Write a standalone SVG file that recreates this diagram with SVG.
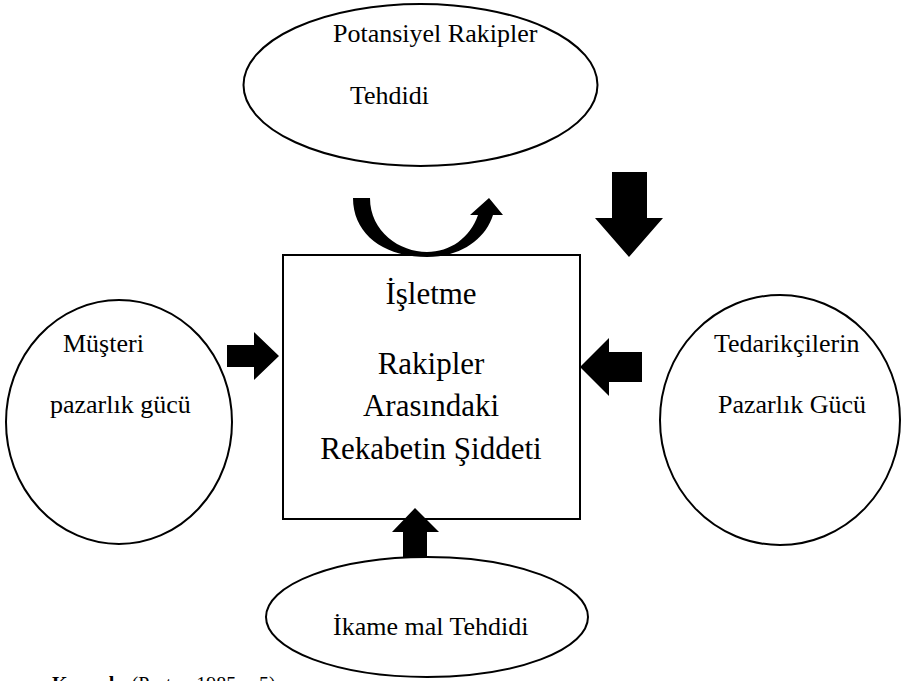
<svg xmlns="http://www.w3.org/2000/svg" width="901" height="681" viewBox="0 0 901 681">
<style>
.shape{fill:#fff;stroke:#000;stroke-width:2}
.t{font-family:"Liberation Serif","Times New Roman",serif;font-size:26px;fill:#000}
.c{font-family:"Liberation Serif","Times New Roman",serif;font-size:31px;fill:#000;text-anchor:middle}
.arrow{fill:#000;stroke:none}
</style>
<rect width="901" height="681" fill="#fff"/>
<g id="potansiyel">
<ellipse class="shape" cx="420.5" cy="85" rx="177" ry="81"/>
<text class="t" x="333" y="42">Potansiyel Rakipler</text>
<text class="t" x="350" y="104">Tehdidi</text>
</g>
<g id="isletme">
<rect class="shape" x="283" y="255" width="297" height="264"/>
<text class="c" x="431" y="304">İşletme</text>
<text class="c" x="431" y="374">Rakipler</text>
<text class="c" x="431" y="416">Arasındaki</text>
<text class="c" x="431" y="459">Rekabetin Şiddeti</text>
</g>
<g id="musteri">
<ellipse class="shape" cx="119" cy="422" rx="113" ry="122"/>
<text class="t" x="63" y="352">Müşteri</text>
<text class="t" x="50" y="413">pazarlık gücü</text>
</g>
<g id="tedarikci">
<ellipse class="shape" cx="780" cy="420" rx="120" ry="125"/>
<text class="t" x="714" y="352">Tedarikçilerin</text>
<text class="t" x="718" y="413">Pazarlık Gücü</text>
</g>
<g id="ikame">
<ellipse class="shape" cx="427" cy="617" rx="161" ry="60"/>
<text class="t" x="333" y="635">İkame mal Tehdidi</text>
</g>
<g id="connectors">
<path class="arrow" d="M353,198 C353,235 385,257 427,257 C460,257 485,240 493,215 L503,215 L489,198 L470,215 L478,215 C470,238 450,252 427,252 C400,252 370,232 370,198 Z"/>
<polygon class="arrow" points="612,172 647,172 647,218 663,218 629,257 595,218 612,218"/>
<polygon class="arrow" points="227,345 254,345 254,332 279,356 254,380 254,367 227,367"/>
<polygon class="arrow" points="642,352 609,352 609,338 580,367 609,396 609,382 642,382"/>
<polygon class="arrow" points="403,558 403,532 392,532 415,508 439,532 427,532 427,558"/>
</g>
<text x="52" y="691" style="font-family:'Liberation Serif','Times New Roman',serif;font-size:20px"><tspan font-weight="bold">Kaynak:</tspan> (Porter, 1985, s.5)</text>
</svg>
